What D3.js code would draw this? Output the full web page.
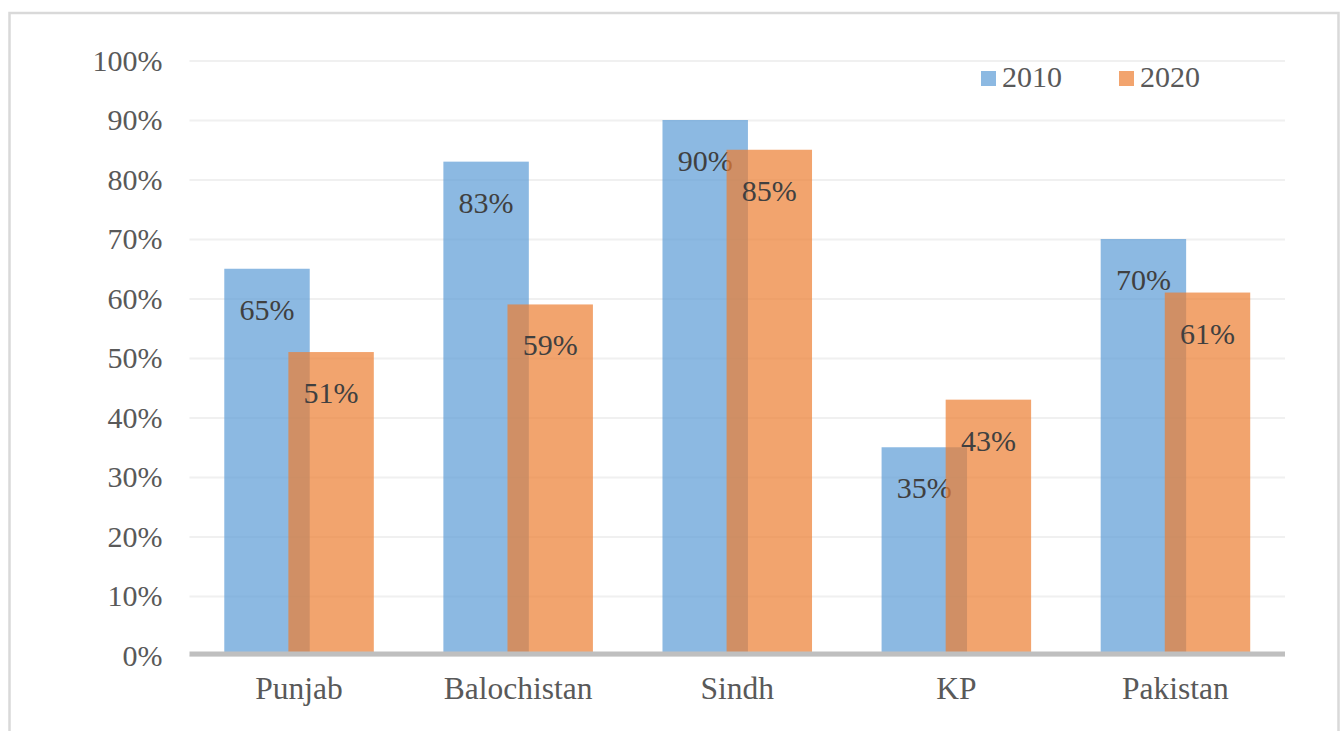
<!DOCTYPE html>
<html>
<head>
<meta charset="utf-8">
<script src="https://cdn.jsdelivr.net/npm/d3@7"></script>
</head>
<body style="margin:0;background:#fff">
<div id="chart"></div>
<script>
var regions = ["Punjab", "Balochistan", "Sindh", "KP", "Pakistan"];
var years = ["2010", "2020"];
var values2010 = [0.65, 0.83, 0.90, 0.35, 0.70];
var values2020 = [0.51, 0.59, 0.85, 0.43, 0.61];
var yTicks = [0, 0.1, 0.2, 0.3, 0.4, 0.5, 0.6, 0.7, 0.8, 0.9, 1.0];

var W = 1341, H = 731;
var plot = { left: 189.5, right: 1285, top: 60.5, bottom: 655.5 };
var colors = ["#5B9BD5", "#ED7D31"];
var FONT = "Liberation Serif";
var fmt = d3.format(".0%");

var svg = d3.select("#chart").append("svg")
    .attr("width", W)
    .attr("height", H)
    .attr("font-family", FONT);

// frame
svg.append("rect")
    .attr("x", 9.5).attr("y", 13)
    .attr("width", 1329).attr("height", 740)
    .attr("fill", "none")
    .attr("stroke", "#d9d9d9")
    .attr("stroke-width", 2.5);

var x = d3.scaleBand()
    .domain(regions)
    .range([plot.left, plot.right]);

var y = d3.scaleLinear()
    .domain([0, 1])
    .range([plot.bottom, plot.top]);

/* gridlines + y labels */
var yAxis = svg.append("g")
    .attr("transform", "translate(" + plot.left + ",0)")
    .call(d3.axisLeft(y).tickValues(yTicks).tickFormat(fmt)
        .tickSize(-(plot.right - plot.left)).tickPadding(27));
yAxis.attr("font-family", FONT).attr("font-size", 30);
yAxis.select(".domain").remove();
yAxis.selectAll(".tick line")
    .attr("stroke", "#f0f0f0")
    .attr("stroke-width", 2);
yAxis.selectAll(".tick text")
    .attr("font-family", FONT)
    .attr("font-size", 30)
    .attr("fill", "#595959");

/* bars */
var barW = x.bandwidth() * 0.39;
var shift = barW * 0.75;
var series = [values2010, values2020];

series.forEach(function (vals, s) {
    var data = regions.map(function (r, i) { return { region: r, value: vals[i] }; });
    var bx = function (d) {
        return x(d.region) + x.bandwidth() / 2 - (barW + shift) / 2 + s * shift;
    };
    svg.append("g").selectAll("rect")
        .data(data)
        .enter()
        .append("rect")
        .attr("x", bx)
        .attr("y", function (d) { return y(d.value); })
        .attr("width", barW)
        .attr("height", function (d) { return y(0) - y(d.value); })
        .attr("fill", colors[s])
        .attr("fill-opacity", 0.7);

    svg.append("g").selectAll("text")
        .data(data)
        .enter()
        .append("text")
        .attr("x", function (d) { return bx(d) + barW / 2; })
        .attr("y", function (d) { return y(d.value) + 51; })
        .attr("text-anchor", "middle")
        .attr("font-family", FONT)
        .attr("font-size", 30)
        .attr("fill", "#404040")
        .text(function (d) { return fmt(d.value); });
});

/* baseline */
svg.append("line")
    .attr("x1", plot.left).attr("x2", plot.right)
    .attr("y1", y(0) - 1.5).attr("y2", y(0) - 1.5)
    .attr("stroke", "#bfbfbf")
    .attr("stroke-width", 5);

/* x labels */
svg.append("g").selectAll("text")
    .data(regions)
    .enter()
    .append("text")
    .attr("x", function (d) { return x(d) + x.bandwidth() / 2; })
    .attr("y", 699)
    .attr("text-anchor", "middle")
    .attr("font-family", FONT)
    .attr("font-size", 31.5)
    .attr("fill", "#595959")
    .text(function (d) { return d; });

/* legend */
var legendX = [981, 1119];
var lg = svg.append("g").selectAll("g")
    .data(years)
    .enter()
    .append("g")
    .attr("transform", function (d, i) { return "translate(" + legendX[i] + ",71)"; });
lg.append("rect")
    .attr("width", 15).attr("height", 15)
    .attr("fill", function (d, i) { return colors[i]; })
    .attr("fill-opacity", 0.7);
lg.append("text")
    .attr("x", 21).attr("y", 16)
    .attr("font-family", FONT)
    .attr("font-size", 30)
    .attr("fill", "#595959")
    .text(function (d) { return d; });
</script>
</body>
</html>
